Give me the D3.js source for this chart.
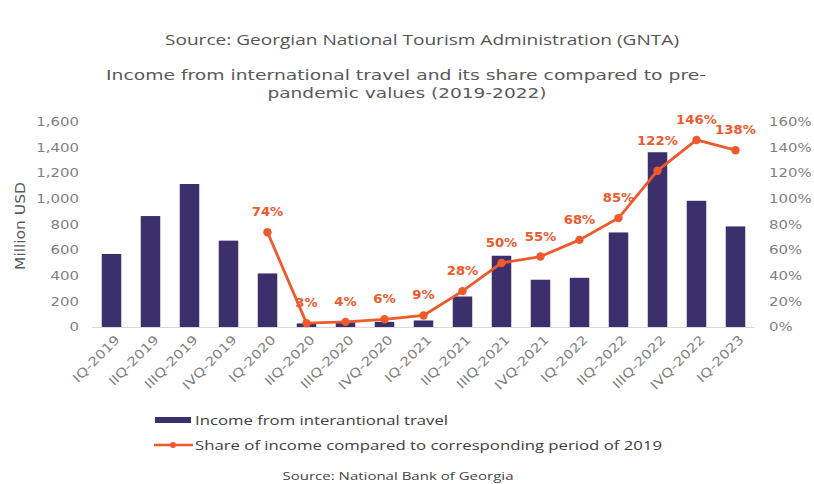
<!DOCTYPE html>
<html>
<head>
<meta charset="utf-8">
<script src="https://cdn.jsdelivr.net/npm/d3@7"></script>
<style>
  html, body { margin: 0; padding: 0; background: #fff; }
  svg { display: block; }
</style>
</head>
<body>
<svg id="chart" width="814" height="484"></svg>
<script>
// Quarterly periods, income (million USD) and share of 2019 level
const quarters = ["IQ-2019","IIQ-2019","IIIQ-2019","IVQ-2019","IQ-2020","IIQ-2020","IIIQ-2020","IVQ-2020",
                  "IQ-2021","IIQ-2021","IIIQ-2021","IVQ-2021","IQ-2022","IIQ-2022","IIIQ-2022","IVQ-2022","IQ-2023"];
const income = [570, 866, 1116, 674, 418, 28, 45, 40, 51, 238, 556, 369, 384, 738, 1364, 985, 785];
const shareQuarters = quarters.slice(4);
const sharePct = [74, 3, 4, 6, 9, 28, 50, 55, 68, 85, 122, 146, 138];
const leftTicks = [0, 200, 400, 600, 800, 1000, 1200, 1400, 1600];
const rightTicks = [0, 20, 40, 60, 80, 100, 120, 140, 160];

const topSource = "Source: Georgian National Tourism Administration (GNTA)";
const titleLines = ["Income from international travel and its share compared to pre-",
                    "pandemic values (2019-2022)"];
const yTitle = "Million USD";
const legendLabels = ["Income from interantional travel",
                      "Share of income compared to corresponding period of 2019"];
const bottomSource = "Source: National Bank of Georgia";

const BAR = "#3d2f6b", LINE = "#ee5a2c", TXT = "#595959", TICK = "#7f7f7f";
const SX = 1.3; // horizontal stretch of the axis lettering

const svg = d3.select("#chart");
svg.append("rect").attr("width", 814).attr("height", 484).attr("fill", "#fff");

const x = d3.scaleBand().domain(quarters).range([92, 755]).paddingInner(0.5).paddingOuter(0.25);
const y = d3.scaleLinear().domain([0, 1600]).range([327, 122]);
const y2 = d3.scaleLinear().domain([0, 160]).range([327, 122]);

// headings
function fitted(sel, txt, cx, cy, size, width, family, color, weight) {
  return sel.append("text").text(txt)
    .attr("x", cx).attr("y", cy).attr("dy", "0.35em")
    .attr("text-anchor", "middle")
    .attr("font-family", family).attr("font-size", size)
    .attr("font-weight", weight || "normal")
    .attr("fill", color)
    .attr("textLength", width).attr("lengthAdjust", "spacingAndGlyphs");
}
fitted(svg, topSource, 422, 40, 14, 514, "'Open Sans', sans-serif", "#555");
fitted(svg, titleLines[0], 406, 75, 14.5, 600, "'DejaVu Sans', sans-serif", TXT);
fitted(svg, titleLines[1], 407, 93, 14.5, 279, "'DejaVu Sans', sans-serif", TXT);

// y axis title
svg.append("text").text(yTitle)
  .attr("transform", "translate(20,226) rotate(-90)")
  .attr("dy", "0.35em").attr("text-anchor", "middle")
  .attr("font-family", "'DejaVu Sans', sans-serif").attr("font-size", 14)
  .attr("textLength", 88).attr("lengthAdjust", "spacingAndGlyphs")
  .attr("fill", TXT);

// bars
svg.append("g").selectAll("rect").data(quarters).join("rect")
  .attr("x", d => x(d)).attr("width", x.bandwidth())
  .attr("y", (d, i) => y(income[i]))
  .attr("height", (d, i) => y(0) - y(income[i]))
  .attr("fill", BAR);

// left axis
const gl = svg.append("g").attr("transform", "translate(79,0)")
  .call(d3.axisLeft(y).tickValues(leftTicks).tickSize(0).tickPadding(0).tickFormat(d3.format(",")));
gl.select(".domain").remove();
gl.selectAll("text").attr("x", 0).attr("transform", `scale(${SX},1)`)
  .attr("font-family", "'DejaVu Sans', sans-serif").attr("font-size", 11.5).attr("fill", TICK);

// right axis
const gr = svg.append("g").attr("transform", "translate(769,0)")
  .call(d3.axisRight(y2).tickValues(rightTicks).tickSize(0).tickPadding(0).tickFormat(d => d + "%"));
gr.select(".domain").remove();
gr.selectAll("text").attr("x", 0).attr("transform", `scale(${SX},1)`)
  .attr("font-family", "'DejaVu Sans', sans-serif").attr("font-size", 11.5).attr("fill", TICK);

// bottom axis, labels slanted at 45°
const gb = svg.append("g").attr("transform", "translate(0,327.5)")
  .call(d3.axisBottom(x).tickSize(0).tickPadding(0));
gb.select(".domain").attr("stroke", "#d9d9d9").attr("d", "M92,0H755");
gb.selectAll("text")
  .attr("x", 0).attr("y", 0).attr("dy", "0.35em")
  .attr("text-anchor", "end")
  .attr("transform", "translate(6,10) rotate(-45) scale(1.2,1)")
  .attr("font-family", "'DejaVu Sans', sans-serif").attr("font-size", 12.5).attr("fill", TICK);

// share line
const cx = d => x(d) + x.bandwidth() / 2;
const line = d3.line().x(d => cx(d[0])).y(d => y2(d[1]));
const pts = shareQuarters.map((q, i) => [q, sharePct[i]]);
svg.append("path").datum(pts).attr("d", line)
  .attr("fill", "none").attr("stroke", LINE).attr("stroke-width", 2.8).attr("stroke-linejoin", "round");
svg.append("g").selectAll("circle").data(pts).join("circle")
  .attr("cx", d => cx(d[0])).attr("cy", d => y2(d[1])).attr("r", 4.2).attr("fill", LINE);

// value labels above the points (the 122% label sits higher to clear its bar)
svg.append("g").selectAll("text").data(pts).join("text")
  .text(d => d[1] + "%")
  .attr("transform", d => `translate(${cx(d[0])},${y2(d[1]) - (d[1] === 122 ? 30 : 20)}) scale(1.15,1)`)
  .attr("dy", "0.35em").attr("text-anchor", "middle")
  .attr("font-family", "'DejaVu Sans', sans-serif").attr("font-size", 11.5).attr("font-weight", "bold")
  .attr("fill", LINE);

// legend
const lg = svg.append("g");
lg.append("rect").attr("x", 155).attr("y", 417).attr("width", 36).attr("height", 6).attr("fill", BAR);
lg.append("line").attr("x1", 154).attr("x2", 193).attr("y1", 445).attr("y2", 445)
  .attr("stroke", LINE).attr("stroke-width", 2.5);
lg.append("circle").attr("cx", 173).attr("cy", 445).attr("r", 3).attr("fill", LINE);
function legendText(txt, yy, w) {
  lg.append("text").text(txt).attr("x", 195).attr("y", yy).attr("dy", "0.35em")
    .attr("font-family", "'Open Sans', sans-serif").attr("font-size", 13.5).attr("fill", "#404040")
    .attr("textLength", w).attr("lengthAdjust", "spacingAndGlyphs");
}
legendText(legendLabels[0], 420, 253);
legendText(legendLabels[1], 445, 467);

fitted(svg, bottomSource, 398, 476, 11.5, 231, "'Open Sans', sans-serif", "#444");
</script>
</body>
</html>
